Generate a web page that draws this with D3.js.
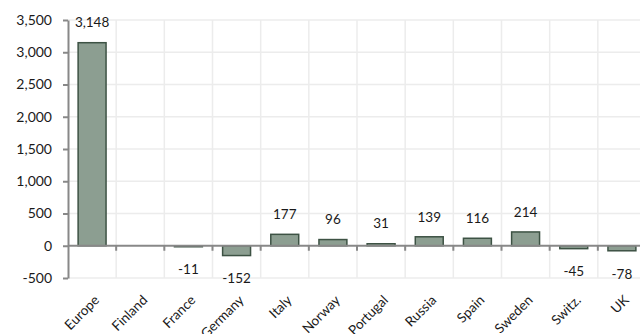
<!DOCTYPE html>
<html>
<head>
<meta charset="utf-8">
<script src="https://cdn.jsdelivr.net/npm/d3@7/dist/d3.min.js"></script>
<style>
  html, body { margin: 0; padding: 0; background: #fff; }
  svg { display: block; font-family: Lato, "Open Sans", sans-serif; }
</style>
</head>
<body>
<svg id="chart" width="640" height="334"></svg>
<script>
// Net change by market
const categories = ["Europe", "Finland", "France", "Germany", "Italy", "Norway", "Portugal", "Russia", "Spain", "Sweden", "Switz.", "UK"];
const values = [3148, null, -11, -152, 177, 96, 31, 139, 116, 214, -45, -78];
const yTicks = [-500, 0, 500, 1000, 1500, 2000, 2500, 3000, 3500];

const svg = d3.select("#chart");
const plotLeft = 68, plotRight = 646, plotTop = 20, plotBottom = 278;

const x = d3.scaleBand().domain(categories).range([plotLeft, plotRight]).paddingInner(0.42).paddingOuter(0.21);
const y = d3.scaleLinear().domain([-500, 3500]).range([plotBottom, plotTop]);

// thousands separator with a plain hyphen for negatives
const fmt = d => d3.format(",")(d).replace("\u2212", "-");

const step = x.step();
const bounds = d3.range(categories.length + 1).map(i => plotLeft + i * step);

// grid
const grid = svg.append("g");
grid.selectAll("line.h").data(yTicks.filter(d => d !== 0)).join("line")
  .attr("x1", plotLeft).attr("x2", plotRight)
  .attr("y1", d => y(d)).attr("y2", d => y(d))
  .attr("stroke", "#ececec").attr("stroke-width", 1.5);
grid.selectAll("line.v").data(bounds.slice(1)).join("line")
  .attr("x1", d => d).attr("x2", d => d)
  .attr("y1", plotTop).attr("y2", plotBottom)
  .attr("stroke", "#ececec").attr("stroke-width", 1.5);

// bars
const data = categories.map((c, i) => ({ c, v: values[i] })).filter(d => d.v !== null);
svg.append("g").selectAll("rect").data(data).join("rect")
  .attr("x", d => x(d.c))
  .attr("width", x.bandwidth())
  .attr("y", d => y(Math.max(0, d.v)))
  .attr("height", d => Math.max(1, Math.abs(y(d.v) - y(0))))
  .attr("fill", "#8c9e91")
  .attr("stroke", "#3d5244")
  .attr("stroke-width", 1.5);

// value labels
svg.append("g").selectAll("text").data(data).join("text")
  .attr("x", d => x(d.c) + x.bandwidth() / 2)
  .attr("y", d => d.v >= 0 ? y(d.v) - 20 : y(d.v) + 23)
  .attr("dy", "0.35em")
  .attr("text-anchor", "middle")
  .attr("font-size", 13.5)
  .attr("fill", "#1a1a1a")
  .text(d => fmt(d.v));

// y axis
const yAxis = svg.append("g").attr("transform", `translate(${plotLeft},0)`)
  .call(d3.axisLeft(y).tickValues(yTicks).tickFormat(fmt).tickSize(5).tickSizeOuter(0));
yAxis.select(".domain").attr("stroke", "#888").attr("stroke-width", 2);
yAxis.selectAll(".tick line").attr("stroke", "#888").attr("stroke-width", 2);
yAxis.selectAll(".tick text").attr("font-size", 14).attr("fill", "#1a1a1a")
  .attr("font-family", "Lato, 'Open Sans', sans-serif").attr("x", -16);

// zero line with category-boundary ticks
const z = svg.append("g");
z.append("line").attr("x1", plotLeft).attr("x2", plotRight).attr("y1", y(0)).attr("y2", y(0))
  .attr("stroke", "#888").attr("stroke-width", 2);
z.selectAll("line.t").data(bounds.slice(1)).join("line")
  .attr("x1", d => d).attr("x2", d => d)
  .attr("y1", y(0)).attr("y2", y(0) + 5)
  .attr("stroke", "#888").attr("stroke-width", 2);

// category labels
svg.append("g").selectAll("text").data(categories).join("text")
  .attr("text-anchor", "end")
  .attr("font-size", 13.5)
  .attr("fill", "#1a1a1a")
  .attr("transform", d => `translate(${x(d) + x.bandwidth() / 2 + 8},${301}) rotate(-45)`)
  .text(d => d);
</script>
</body>
</html>
